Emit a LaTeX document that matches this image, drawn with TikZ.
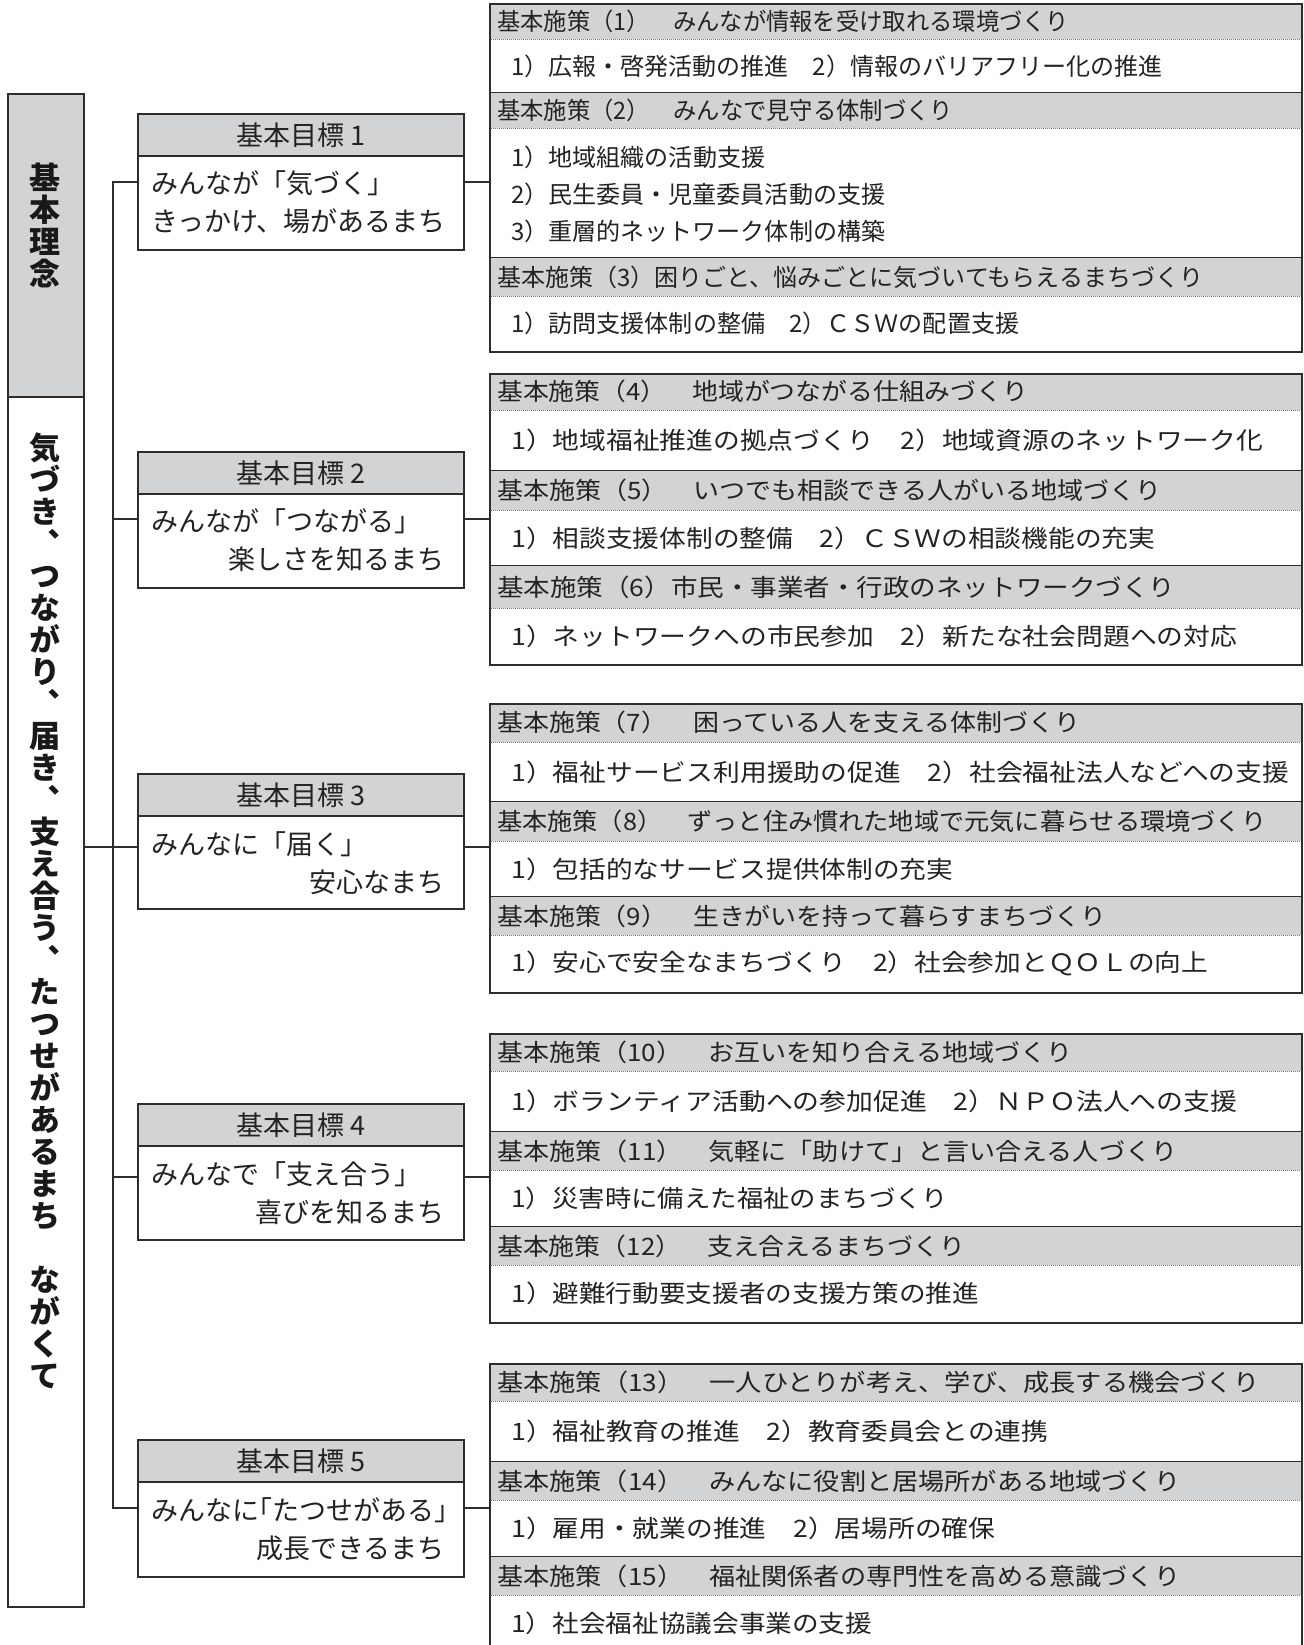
\documentclass[tikz,border=0pt]{standalone}
\usepackage{fontspec}
\usepackage{graphicx}
\setmainfont{Noto Sans CJK JP}
\newfontfamily\vjp[RawFeature={+vert}]{Noto Sans CJK JP}
\definecolor{lc}{RGB}{45,45,45}
\definecolor{gf}{RGB}{210,211,213}
\definecolor{tc}{RGB}{35,35,35}
\newcommand{\polhead}[5]{%
  \fill[gf] (489,#2) rectangle (1301,#3);
  \draw[dotl] (489,#3) -- (1301,#3);
  \node[ptext, anchor=west] (#1) at (497,{(#2+#3)/2}) {\resizebox{#4pt}{\height}{#5}};
}
\newcommand{\polbody}[4]{%
  \node[ptext, anchor=west] (#1) at (511,#2) {\resizebox{#3pt}{\height}{#4}};
}
\newcommand{\obr}{\makebox[0.5em][r]{「}}
\newcommand{\cbr}{\makebox[0.5em][l]{」}}
\begin{document}
\begin{tikzpicture}[x=1pt,y=-1pt,
  ln/.style={draw=lc, line width=2.2pt},
  dotl/.style={draw=black!55, line width=0.8pt, dash pattern=on 0.8pt off 1.2pt},
  ptext/.style={font=\fontsize{24}{28}\selectfont, text=tc, inner sep=0pt},
  gtext/.style={font=\fontsize{27}{30}\selectfont, text=tc, inner sep=0pt},
  gbox/.style={draw=lc, line width=2.2pt, fill=white, rectangle, inner sep=0pt, minimum width=326pt, anchor=north west},
  ghead/.style={draw=lc, line width=2.2pt, fill=gf, rectangle, inner sep=0pt, minimum width=326pt, minimum height=42pt, anchor=north west, font=\fontsize{27}{30}\selectfont, text=tc},
  pbox/.style={draw=lc, line width=2.2pt, rectangle, inner sep=0pt, minimum width=812pt, anchor=north west},
  colbox/.style={draw=lc, line width=2.2pt, rectangle, inner sep=0pt, minimum width=76pt, anchor=north west},
  vtext/.style={font=\vjp\bfseries\fontsize{31}{32}\selectfont, text=black!90, align=center, inner sep=0pt}
]
\fill[white] (0,0) rectangle (1303,1645);
\useasboundingbox (0,0) rectangle (1303,1645);

% ---------- left column ----------
\node[colbox, fill=gf, minimum height=303pt] (rin1) at (7,93) {};
\node[colbox, fill=white, minimum height=1210pt] (rin2) at (7,396) {};
\node[vtext] (rint1) at (45,225) {基\\本\\理\\念};
\node[vtext] (rint2) at (45,911) {気\\づ\\き\\、\\つ\\な\\が\\り\\、\\届\\き\\、\\支\\え\\合\\う\\、\\た\\つ\\せ\\が\\あ\\る\\ま\\ち\\　\\な\\が\\く\\て};

% ---------- goal boxes ----------
\node[gbox, minimum height=136pt] (g1) at (137,113) {};
\node[ghead] (g1h) at (137,113) {基本目標 1};
\node[gtext, anchor=west] (g1a) at (151,183) {みんなが「気づく」};
\node[gtext, anchor=west] (g1b) at (151,221) {きっかけ、場があるまち};

\node[gbox, minimum height=136pt] (g2) at (137,451) {};
\node[ghead] (g2h) at (137,451) {基本目標 2};
\node[gtext, anchor=west] (g2a) at (151,521) {みんなが「つながる」};
\node[gtext, anchor=east] (g2b) at (445,559) {楽しさを知るまち};

\node[gbox, minimum height=135pt] (g3) at (137,773) {};
\node[ghead] (g3h) at (137,773) {基本目標 3};
\node[gtext, anchor=west] (g3a) at (151,844) {みんなに「届く」};
\node[gtext, anchor=east] (g3b) at (445,882) {安心なまち};

\node[gbox, minimum height=136pt] (g4) at (137,1103) {};
\node[ghead] (g4h) at (137,1103) {基本目標 4};
\node[gtext, anchor=west] (g4a) at (151,1174) {みんなで「支え合う」};
\node[gtext, anchor=east] (g4b) at (445,1212) {喜びを知るまち};

\node[gbox, minimum height=137pt] (g5) at (137,1439) {};
\node[ghead] (g5h) at (137,1439) {基本目標 5};
\node[gtext, anchor=west] (g5a) at (151,1510) {みんなに\obr たつせがある\cbr};
\node[gtext, anchor=east] (g5b) at (445,1548) {成長できるまち};

% ---------- policy group 1 ----------
\polhead{h1}{3}{39}{572}{基本施策（1）　みんなが情報を受け取れる環境づくり}
\polbody{b1}{66}{651}{1）広報・啓発活動の推進　2）情報のバリアフリー化の推進}
\draw[ln] (489,93) -- (1301,93);
\polhead{h2}{93}{128}{456}{基本施策（2）　みんなで見守る体制づくり}
\polbody{b2a}{157}{254}{1）地域組織の活動支援}
\polbody{b2b}{194}{374}{2）民生委員・児童委員活動の支援}
\polbody{b2c}{231}{374}{3）重層的ネットワーク体制の構築}
\draw[ln] (489,258) -- (1301,258);
\polhead{h3}{258}{296}{706}{基本施策（3）困りごと、悩みごとに気づいてもらえるまちづくり}
\polbody{b3}{323}{508}{1）訪問支援体制の整備　2）ＣＳＷの配置支援}
\node[pbox, minimum height=348pt] (p1) at (489,3) {};

% ---------- policy group 2 ----------
\polhead{h4}{373}{410}{531}{基本施策（4）　地域がつながる仕組みづくり}
\polbody{b4}{440}{752}{1）地域福祉推進の拠点づくり　2）地域資源のネットワーク化}
\draw[ln] (489,471) -- (1301,471);
\polhead{h5}{471}{510}{664}{基本施策（5）　いつでも相談できる人がいる地域づくり}
\polbody{b5}{538}{644}{1）相談支援体制の整備　2）ＣＳＷの相談機能の充実}
\draw[ln] (489,566) -- (1301,566);
\polhead{h6}{566}{608}{678}{基本施策（6）市民・事業者・行政のネットワークづくり}
\polbody{b6}{636}{726}{1）ネットワークへの市民参加　2）新たな社会問題への対応}
\node[pbox, minimum height=291pt] (p2) at (489,373) {};

% ---------- policy group 3 ----------
\polhead{h7}{703}{742}{583}{基本施策（7）　困っている人を支える体制づくり}
\polbody{b7}{772}{778}{1）福祉サービス利用援助の促進　2）社会福祉法人などへの支援}
\draw[ln] (489,802) -- (1301,802);
\polhead{h8}{802}{841}{769}{基本施策（8）　ずっと住み慣れた地域で元気に暮らせる環境づくり}
\polbody{b8}{869}{442}{1）包括的なサービス提供体制の充実}
\draw[ln] (489,897) -- (1301,897);
\polhead{h9}{897}{935}{609}{基本施策（9）　生きがいを持って暮らすまちづくり}
\polbody{b9}{963}{697}{1）安心で安全なまちづくり　2）社会参加とＱＯＬの向上}
\node[pbox, minimum height=289pt] (p3) at (489,703) {};

% ---------- policy group 4 ----------
\polhead{h10}{1033}{1071}{575}{基本施策（10）　お互いを知り合える地域づくり}
\polbody{b10}{1101}{726}{1）ボランティア活動への参加促進　2）ＮＰＯ法人への支援}
\draw[ln] (489,1132) -- (1301,1132);
\polhead{h11}{1132}{1170}{680}{基本施策（11）　気軽に「助けて」と言い合える人づくり}
\polbody{b11}{1198}{437}{1）災害時に備えた福祉のまちづくり}
\draw[ln] (489,1227) -- (1301,1227);
\polhead{h12}{1227}{1265}{468}{基本施策（12）　支え合えるまちづくり}
\polbody{b12}{1293}{468}{1）避難行動要支援者の支援方策の推進}
\node[pbox, minimum height=289pt] (p4) at (489,1033) {};

% ---------- policy group 5 ----------
\polhead{h13}{1363}{1401}{762}{基本施策（13）　一人ひとりが考え、学び、成長する機会づくり}
\polbody{b13}{1431}{537}{1）福祉教育の推進　2）教育委員会との連携}
\draw[ln] (489,1462) -- (1301,1462);
\polhead{h14}{1462}{1500}{683}{基本施策（14）　みんなに役割と居場所がある地域づくり}
\polbody{b14}{1528}{484}{1）雇用・就業の推進　2）居場所の確保}
\draw[ln] (489,1557) -- (1301,1557);
\polhead{h15}{1557}{1595}{683}{基本施策（15）　福祉関係者の専門性を高める意識づくり}
\polbody{b15}{1623}{361}{1）社会福祉協議会事業の支援}
\node[pbox, minimum height=310pt] (p5) at (489,1363) {};

% ---------- connectors ----------
\coordinate (c1) at (113,182);
\coordinate (c2) at (113,519);
\coordinate (c3) at (113,847);
\coordinate (c4) at (113,1177);
\coordinate (c5) at (113,1508);
\draw[ln] (g1.west |- c1) -- (c1) -- (c5) -- (g5.west |- c5);
\draw[ln] (c2) -- (g2.west |- c2);
\draw[ln] (rin2.east |- c3) -- (g3.west |- c3);
\draw[ln] (c4) -- (g4.west |- c4);
\draw[ln] (g1.east |- c1) -- (p1.west |- c1);
\draw[ln] (g2.east |- c2) -- (p2.west |- c2);
\draw[ln] (g3.east |- c3) -- (p3.west |- c3);
\draw[ln] (g4.east |- c4) -- (p4.west |- c4);
\draw[ln] (g5.east |- c5) -- (p5.west |- c5);
\end{tikzpicture}
\end{document}
